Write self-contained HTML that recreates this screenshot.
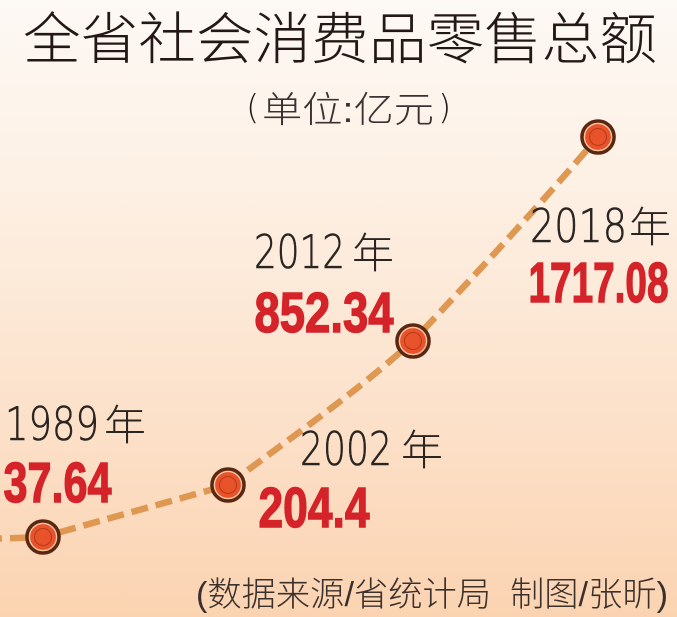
<!DOCTYPE html>
<html>
<head>
<meta charset="utf-8">
<style>
html,body{margin:0;padding:0;}
body{width:677px;height:617px;overflow:hidden;}
svg{display:block;}
</style>
</head>
<body>
<svg width="677" height="617" viewBox="0 0 677 617" xmlns="http://www.w3.org/2000/svg">
<defs>
<linearGradient id="bg" x1="0" y1="0" x2="0" y2="1">
<stop offset="0" stop-color="#fdf9f5"/>
<stop offset="0.3" stop-color="#fdf0e4"/>
<stop offset="0.7" stop-color="#fce0c8"/>
<stop offset="1" stop-color="#fbd3b1"/>
</linearGradient>
<g id="mk">
<circle r="16" fill="#e9532b" stroke="#5a2810" stroke-width="3.6"/>
<circle r="13.6" fill="none" stroke="#f6c3a0" stroke-width="1.4"/>
<circle r="8.5" fill="none" stroke="#b63b18" stroke-width="1.1"/>
</g>
</defs>
<rect width="677" height="617" fill="url(#bg)"/>

<!-- line -->
<path d="M-40,540 L43,537 L228,485 C290,438 352,396 413,341 C475,275 540,205 598,137"
 fill="none" stroke="#df9852" stroke-width="6.5" stroke-dasharray="17 8"/>

<use href="#mk" x="43" y="537"/>
<use href="#mk" x="228" y="485"/>
<use href="#mk" x="413" y="341"/>
<use href="#mk" x="598" y="137"/>

<!-- title -->
<text x="23" y="59" font-family="'Liberation Sans','Noto Sans CJK SC',sans-serif" font-weight="300" font-size="56" fill="#231815" textLength="634" lengthAdjust="spacingAndGlyphs">全省社会消费品零售总额</text>

<!-- subtitle -->
<text x="246" y="119" font-family="'DejaVu Sans','Liberation Sans',sans-serif" font-weight="200" font-size="34" fill="#231815">(</text>
<text x="262" y="122" font-family="'Liberation Sans','Noto Sans CJK SC',sans-serif" font-weight="300" font-size="36" fill="#3a3230" textLength="172" lengthAdjust="spacingAndGlyphs">单位:亿元</text>
<text x="438" y="119" font-family="'DejaVu Sans','Liberation Sans',sans-serif" font-weight="200" font-size="34" fill="#231815">)</text>

<!-- year labels -->
<g font-family="'DejaVu Sans','Liberation Sans',sans-serif" font-weight="200" font-size="46" fill="#2b2522" stroke="#2b2522" stroke-width="0.6">
<text x="5" y="440" textLength="94" lengthAdjust="spacingAndGlyphs">1989</text>
<text x="300" y="465" textLength="92" lengthAdjust="spacingAndGlyphs">2002</text>
<text x="254" y="268" textLength="91" lengthAdjust="spacingAndGlyphs">2012</text>
<text x="530" y="242" textLength="97" lengthAdjust="spacingAndGlyphs">2018</text>
</g>
<g font-family="'Liberation Sans','Noto Sans CJK SC',sans-serif" font-weight="300" font-size="42" fill="#2b2522">
<text x="104" y="440">年</text>
<text x="401" y="465">年</text>
<text x="352" y="268">年</text>
<text x="629" y="242">年</text>
</g>

<!-- values -->
<g font-family="'Liberation Sans',sans-serif" font-weight="bold" font-size="57" fill="#d42329" stroke="#d42329" stroke-width="1.4">
<text x="3.5" y="502" textLength="108" lengthAdjust="spacingAndGlyphs">37.64</text>
<text x="258.5" y="527" textLength="111" lengthAdjust="spacingAndGlyphs">204.4</text>
<text x="254.5" y="332" textLength="139" lengthAdjust="spacingAndGlyphs">852.34</text>
<text x="528.5" y="302" textLength="140" lengthAdjust="spacingAndGlyphs">1717.08</text>
</g>

<!-- source -->
<text x="196" y="606" font-family="'Liberation Sans','Noto Sans CJK SC',sans-serif" font-weight="300" font-size="34" fill="#3a302c" textLength="472" lengthAdjust="spacingAndGlyphs" xml:space="preserve">(数据来源/省统计局  制图/张昕)</text>
</svg>
</body>
</html>
